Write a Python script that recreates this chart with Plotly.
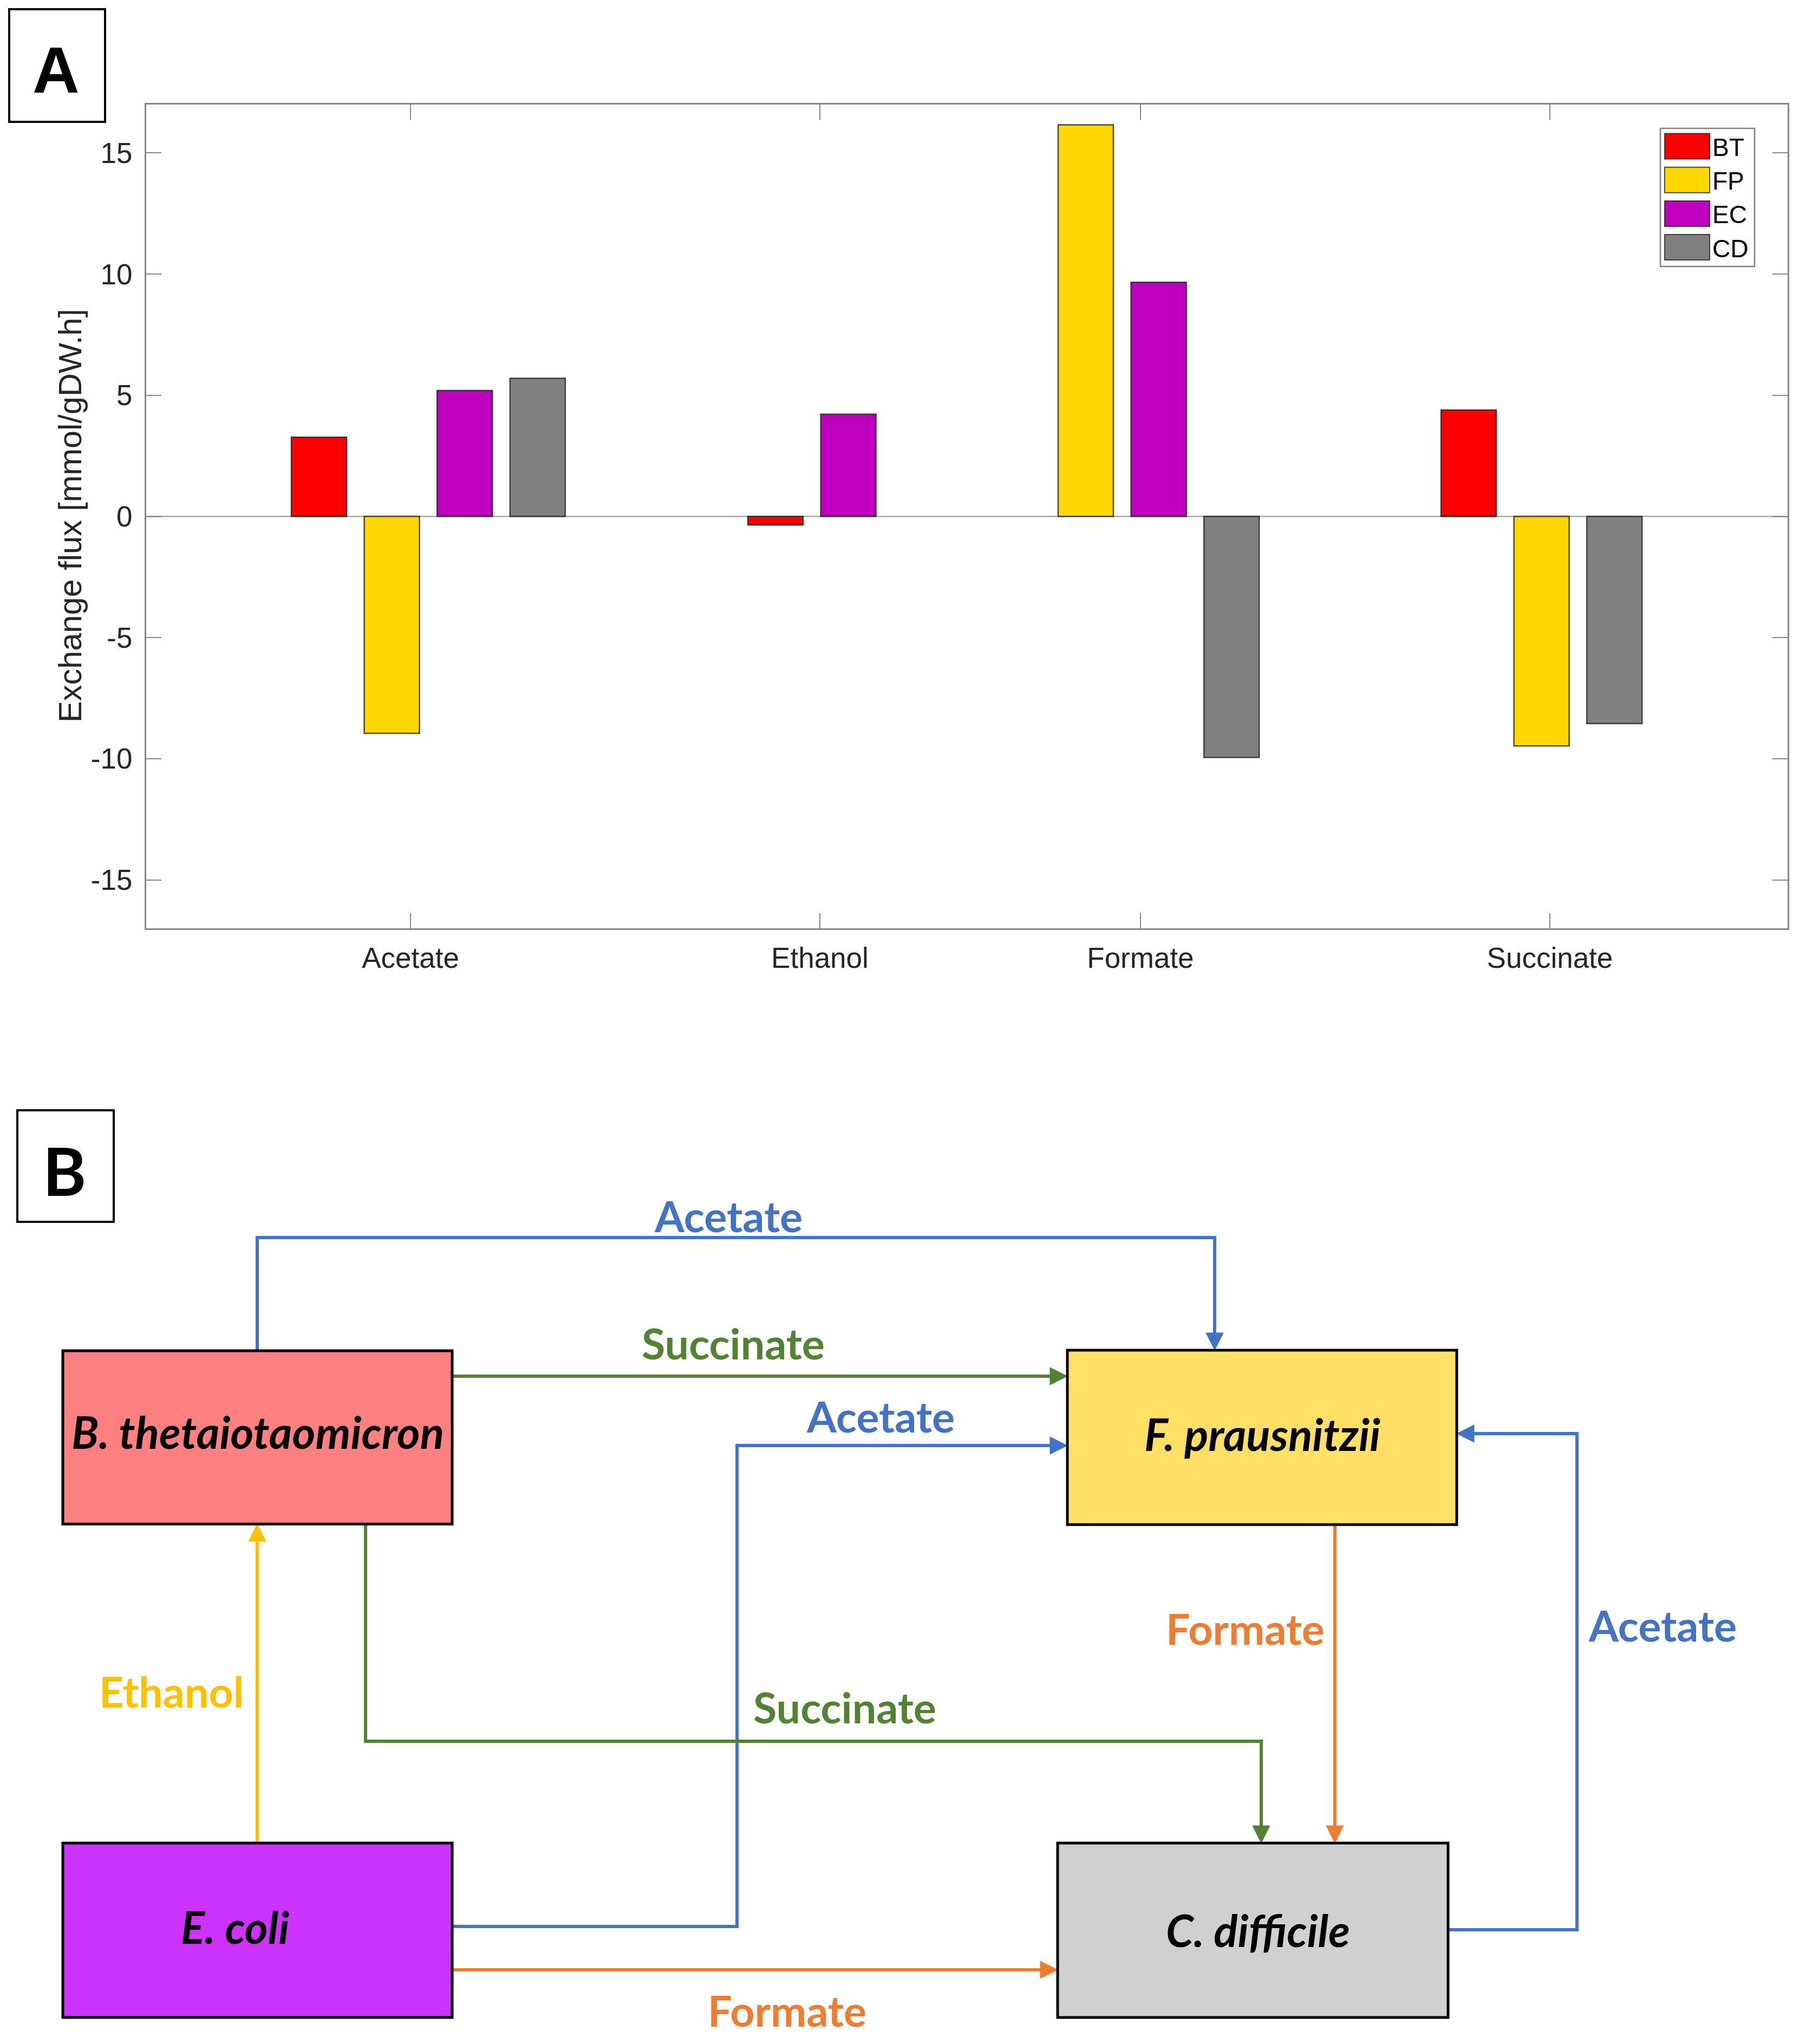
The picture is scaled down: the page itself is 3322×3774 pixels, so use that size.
import plotly.graph_objects as go

W, H = 3322, 3774

# ---------------- data (panel A) ----------------
categories = ["Acetate", "Ethanol", "Formate", "Succinate"]
species = ["BT", "FP", "EC", "CD"]
bt_flux = [3.27, -0.35, 0.0, 4.39]
fp_flux = [-8.95, 0.0, 16.16, -9.47]
ec_flux = [5.20, 4.22, 9.66, 0.0]
cd_flux = [5.70, 0.0, -9.95, -8.55]
bar_colors = ["#FF0000", "#FFD700", "#BF00BF", "#808080"]
y_tick_vals = [-15, -10, -5, 0, 5, 10, 15]
y_tick_text = ["-15", "-10", "-5", "0", "5", "10", "15"]

# x-axis layout in bar-slot units (non-zero bars are packed per group)
group_start = [2.370, 8.633, 12.890, 18.143]
tick_pos = [3.626, 9.242, 13.640, 19.257]
x_range = [0, 22.519]
bar_width = 0.758

series = [bt_flux, fp_flux, ec_flux, cd_flux]

# positions of each non-zero bar
xs = {s: [] for s in species}
ys = {s: [] for s in species}
for g in range(len(categories)):
    rank = 0
    for s, vals in zip(species, series):
        v = vals[g]
        if v != 0:
            xs[s].append(group_start[g] + rank)
            ys[s].append(v)
            rank += 1

fig = go.Figure()
for s, col in zip(species, bar_colors):
    fig.add_trace(go.Bar(
        x=xs[s], y=ys[s], name=s, width=bar_width,
        marker=dict(color=col, line=dict(color="rgba(30,30,30,0.8)", width=2.5)),
        showlegend=False,
    ))

AX = "#888888"
tick_font = dict(family="Liberation Sans, Arial, sans-serif", size=53, color="#262626")

fig.update_layout(
    width=W, height=H, autosize=False,
    margin=dict(l=0, r=0, t=0, b=0),
    paper_bgcolor="white", plot_bgcolor="white",
    barmode="overlay", showlegend=False,
    xaxis=dict(
        domain=[270 / W, 3301 / W], range=x_range,
        tickmode="array", tickvals=tick_pos, ticktext=categories,
        ticks="inside", ticklen=28, tickwidth=2, tickcolor=AX,
        showline=True, linecolor=AX, linewidth=3, mirror="ticks",
        showgrid=False, zeroline=False, tickfont=tick_font,
        ticklabelstandoff=6, fixedrange=True,
    ),
    yaxis=dict(
        domain=[1 - 1714 / H, 1 - 193 / H], range=[-17, 17],
        tickmode="array", tickvals=y_tick_vals, ticktext=y_tick_text,
        ticks="inside", ticklen=28, tickwidth=2, tickcolor=AX,
        showline=True, linecolor=AX, linewidth=3, mirror="ticks",
        showgrid=False, zeroline=True, zerolinecolor="#b4b4b4", zerolinewidth=3,
        tickfont=tick_font, ticklabelstandoff=12, fixedrange=True,
    ),
)


def px(x):
    return x / W


def py(y):
    return 1 - y / H


shapes = []
annotations = []

# y-axis title
annotations.append(dict(
    x=px(130), y=py(952), xref="paper", yref="paper",
    text="Exchange flux [mmol/gDW.h]", textangle=-90, showarrow=False,
    xanchor="center", yanchor="middle",
    font=dict(family="Liberation Sans, Arial, sans-serif", size=59.5, color="#262626"),
))

# custom legend
shapes.append(dict(type="rect", xref="paper", yref="paper",
                   x0=px(3066), x1=px(3240), y0=py(237), y1=py(492),
                   line=dict(color="#808080", width=2.5), fillcolor="white"))
for i, (s, col) in enumerate(zip(species, bar_colors)):
    cy = 270 + i * 62.2
    shapes.append(dict(type="rect", xref="paper", yref="paper",
                       x0=px(3074), x1=px(3157), y0=py(cy - 23.5), y1=py(cy + 23.5),
                       line=dict(color="rgba(30,30,30,0.8)", width=2), fillcolor=col))
    annotations.append(dict(x=px(3160), y=py(cy + 2), xref="paper", yref="paper",
                            text=s, showarrow=False, xanchor="left", yanchor="middle",
                            font=dict(family="Liberation Sans, Arial, sans-serif",
                                      size=46, color="black")))

# panel labels
for (x0, y0, x1, y1, lab, fam, sz) in [
    (17, 17, 194, 225, "A", "Liberation Sans, Arial, sans-serif", 120),
    (32, 2050, 210, 2256, "B", "Lato, sans-serif", 122),
]:
    shapes.append(dict(type="rect", xref="paper", yref="paper",
                       x0=px(x0), x1=px(x1), y0=py(y0), y1=py(y1),
                       line=dict(color="black", width=4), fillcolor="white"))
    annotations.append(dict(x=px((x0 + x1) / 2 - 2), y=py((y0 + y1) / 2 + 8),
                            xref="paper", yref="paper", text=f"<b>{lab}</b>",
                            showarrow=False, xanchor="center", yanchor="middle",
                            font=dict(family=fam, size=sz, color="black")))

# ---------------- panel B: interaction diagram ----------------
BLUE = "#4472C4"
GREEN = "#548235"
ORANGE = "#ED7D31"
YELLOW = "#FFC000"

nodes = [
    # x0, y0, x1, y1, fill, label, text centre x, text centre y
    (116, 2494, 835, 2814, "#FF8080", "B. thetaiotaomicron", 476, 2643),
    (1971, 2493, 2690, 2815, "#FFE066", "F. prausnitzii", 2331, 2647),
    (116, 3403, 835, 3725, "#CC33FF", "E. coli", 434, 3557),
    (1953, 3403, 2674, 3725, "#D0D0D0", "C. difficile", 2323, 3563),
]

edges = [
    ([(475, 2494), (475, 2285), (2243, 2285), (2243, 2493)], BLUE),
    ([(835, 2541), (1971, 2541)], GREEN),
    ([(835, 3557), (1361, 3557), (1361, 2669), (1971, 2669)], BLUE),
    ([(475, 3403), (475, 2814)], YELLOW),
    ([(675, 2814), (675, 3215), (2329, 3215), (2329, 3403)], GREEN),
    ([(835, 3637), (1953, 3637)], ORANGE),
    ([(2465, 2815), (2465, 3403)], ORANGE),
    ([(2674, 3563), (2912, 3563), (2912, 2647), (2690, 2647)], BLUE),
]

edge_labels = [
    ("Acetate", BLUE, 1345, 2244),
    ("Succinate", GREEN, 1354, 2479),
    ("Acetate", BLUE, 1626, 2614),
    ("Ethanol", YELLOW, 316, 3122),
    ("Succinate", GREEN, 1560, 3151),
    ("Formate", ORANGE, 1453, 3711),
    ("Formate", ORANGE, 2299, 3006),
    ("Acetate", BLUE, 3070, 3000),
]

HEAD_L, HEAD_W = 32, 16
LW = 6

for pts, col in edges:
    (xa, ya), (xb, yb) = pts[-2], pts[-1]
    dx, dy = xb - xa, yb - ya
    n = (dx * dx + dy * dy) ** 0.5
    ux, uy = dx / n, dy / n
    bx, by = xb - HEAD_L * ux, yb - HEAD_L * uy
    line_pts = pts[:-1] + [(bx + 2 * ux, by + 2 * uy)]
    path = "M " + " L ".join(f"{px(x):.6f},{py(y):.6f}" for x, y in line_pts)
    shapes.append(dict(type="path", xref="paper", yref="paper", path=path,
                       line=dict(color=col, width=LW), layer="above"))
    perp_x, perp_y = -uy, ux
    c1 = (bx + HEAD_W * perp_x, by + HEAD_W * perp_y)
    c2 = (bx - HEAD_W * perp_x, by - HEAD_W * perp_y)
    tri = (f"M {px(xb):.6f},{py(yb):.6f} L {px(c1[0]):.6f},{py(c1[1]):.6f} "
           f"L {px(c2[0]):.6f},{py(c2[1]):.6f} Z")
    shapes.append(dict(type="path", xref="paper", yref="paper", path=tri,
                       line=dict(color=col, width=1), fillcolor=col, layer="above"))

for x0, y0, x1, y1, fill, lab, tx, ty in nodes:
    shapes.append(dict(type="rect", xref="paper", yref="paper",
                       x0=px(x0), x1=px(x1), y0=py(y0), y1=py(y1),
                       line=dict(color="black", width=5), fillcolor=fill, layer="above"))
    annotations.append(dict(x=px(tx), y=py(ty), xref="paper", yref="paper",
                            text=f"<b><i>{lab}</i></b>", showarrow=False,
                            xanchor="center", yanchor="middle",
                            font=dict(family="Lato, sans-serif", size=82, color="black")))

for lab, col, tx, ty in edge_labels:
    annotations.append(dict(x=px(tx), y=py(ty), xref="paper", yref="paper",
                            text=f"<b>{lab}</b>", showarrow=False,
                            xanchor="center", yanchor="middle",
                            font=dict(family="Lato, sans-serif", size=79, color=col)))

fig.update_layout(shapes=shapes, annotations=annotations)

fig.write_html("out.html", config={"displayModeBar": False},
               post_script="document.body.style.margin='0';")
